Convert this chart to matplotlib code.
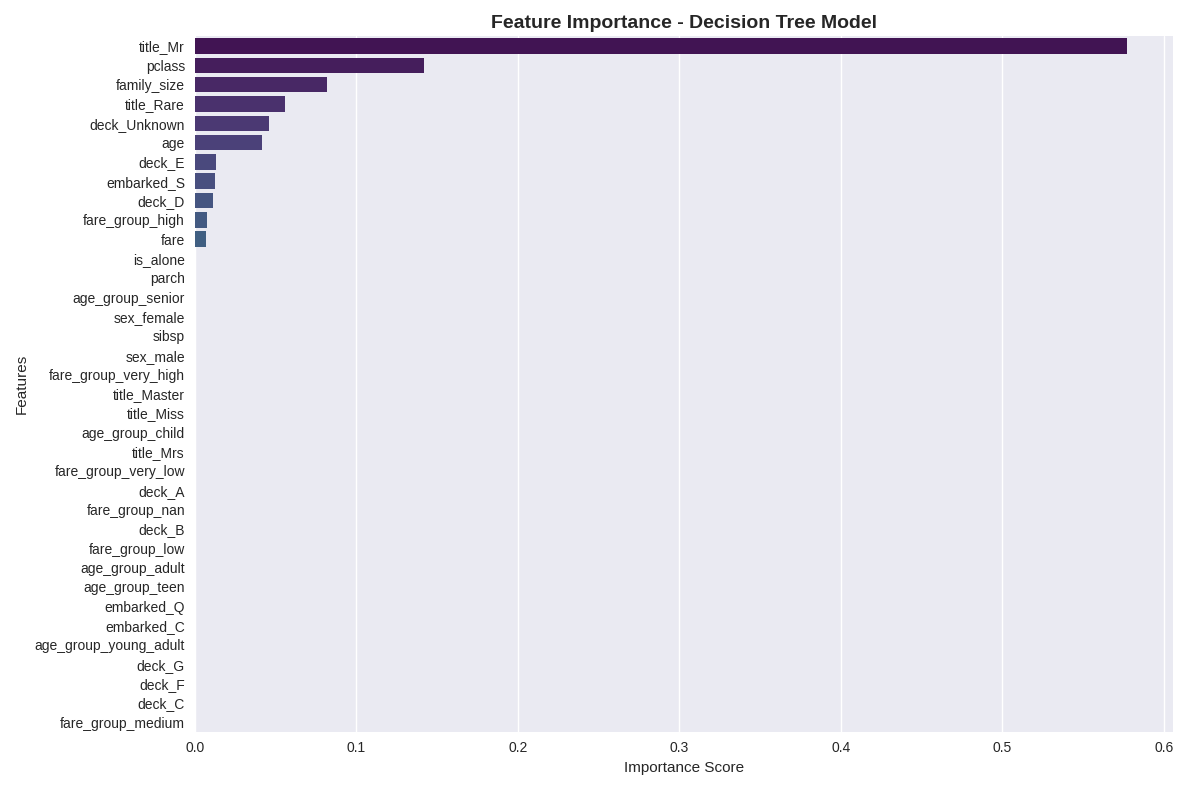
import matplotlib
matplotlib.use("Agg")
import matplotlib.pyplot as plt
import seaborn as sns
import pandas as pd

features = ["title_Mr", "pclass", "family_size", "title_Rare", "deck_Unknown", "age",
            "deck_E", "embarked_S", "deck_D", "fare_group_high", "fare", "is_alone",
            "parch", "age_group_senior", "sex_female", "sibsp", "sex_male",
            "fare_group_very_high", "title_Master", "title_Miss", "age_group_child",
            "title_Mrs", "fare_group_very_low", "deck_A", "fare_group_nan", "deck_B",
            "fare_group_low", "age_group_adult", "age_group_teen", "embarked_Q",
            "embarked_C", "age_group_young_adult", "deck_G", "deck_F", "deck_C",
            "fare_group_medium"]
importance = [0.577, 0.142, 0.082, 0.056, 0.046, 0.042, 0.013, 0.0125, 0.0115,
              0.0075, 0.0068] + [0.0] * 25

df = pd.DataFrame({"feature": features, "importance": importance})

plt.style.use("seaborn-v0_8")
plt.rcParams["font.family"] = ["Liberation Sans", "DejaVu Sans"]
fig, ax = plt.subplots(figsize=(11.89, 7.9), dpi=100)
sns.barplot(data=df, x="importance", y="feature", hue="feature",
            palette="viridis", legend=False, ax=ax, linewidth=0)
ax.set_title("Feature Importance - Decision Tree Model", fontsize=14, fontweight="bold")
ax.set_xlabel("Importance Score")
ax.set_ylabel("Features")
plt.tight_layout()
plt.savefig("out.png")
